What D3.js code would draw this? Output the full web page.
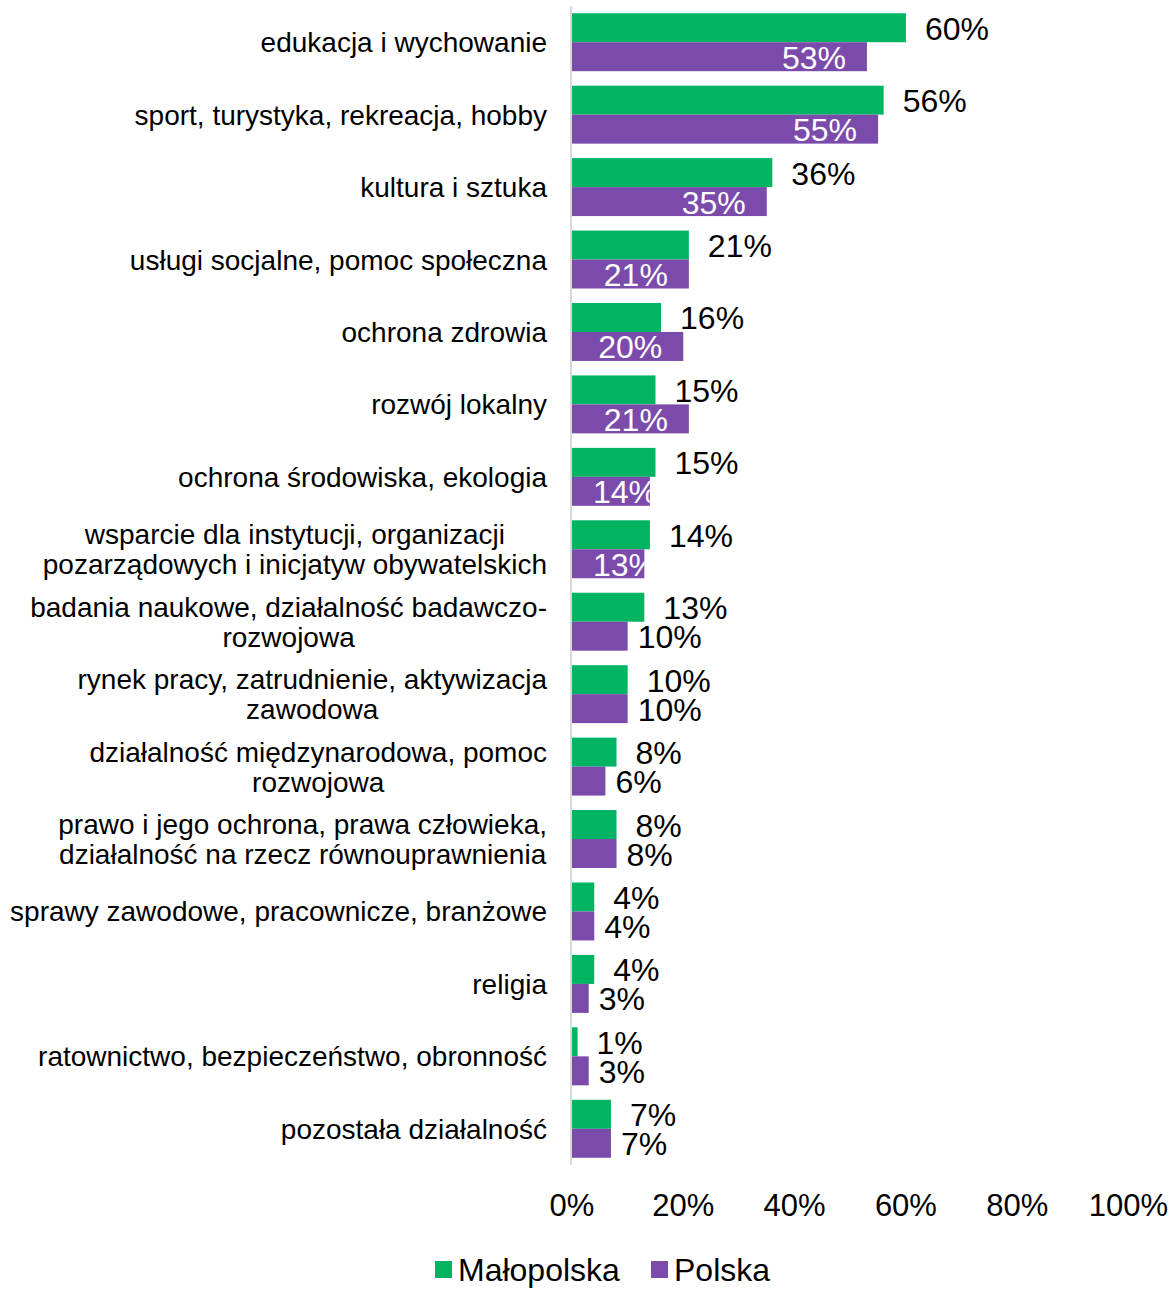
<!DOCTYPE html>
<html>
<head>
<meta charset="utf-8">
<script src="https://cdn.jsdelivr.net/npm/d3@7"></script>
<style>
  html, body { margin: 0; padding: 0; background: #fff; }
  svg { display: block; }
  text { font-family: "Liberation Sans", Arial, sans-serif; }
</style>
</head>
<body>
<svg id="chart" width="1171" height="1289"></svg>
<script>
const categories = [
  "edukacja i wychowanie",
  "sport, turystyka, rekreacja, hobby",
  "kultura i sztuka",
  "usługi socjalne, pomoc społeczna",
  "ochrona zdrowia",
  "rozwój lokalny",
  "ochrona środowiska, ekologia",
  "wsparcie dla instytucji, organizacji\npozarządowych i inicjatyw obywatelskich",
  "badania naukowe, działalność badawczo-\nrozwojowa",
  "rynek pracy, zatrudnienie, aktywizacja\nzawodowa",
  "działalność międzynarodowa, pomoc\nrozwojowa",
  "prawo i jego ochrona, prawa człowieka,\ndziałalność na rzecz równouprawnienia",
  "sprawy zawodowe, pracownicze, branżowe",
  "religia",
  "ratownictwo, bezpieczeństwo, obronność",
  "pozostała działalność"
];
const malopolska = [60, 56, 36, 21, 16, 15, 15, 14, 13, 10, 8, 8, 4, 4, 1, 7];
const polska     = [53, 55, 35, 21, 20, 21, 14, 13, 10, 10, 6, 8, 4, 3, 3, 7];
const seriesNames = ["Małopolska", "Polska"];
const xTicks = [0, 20, 40, 60, 80, 100];

const colors = { "Małopolska": "#00B462", "Polska": "#7B4BAB" };

const svg = d3.select("#chart");
const x = d3.scaleLinear().domain([0, 100]).range([572, 1128.5]);
const y = d3.scaleBand().domain(d3.range(categories.length))
  .range([6, 1165]).paddingInner(0.2).paddingOuter(0.1);
const sub = d3.scaleBand().domain(seriesNames).range([0, y.bandwidth()]);

const data = categories.map((c, i) => ({ i, c, vals: [
  { s: "Małopolska", v: malopolska[i] },
  { s: "Polska", v: polska[i] }
]}));

const defs = svg.append("defs");
const valFont = 32;

const groups = svg.append("g").selectAll("g").data(data).join("g")
  .attr("transform", d => `translate(0,${y(d.i)})`);

groups.each(function(d) {
  const g = d3.select(this);
  d.vals.forEach(o => {
    const y0 = sub(o.s), h = sub.bandwidth();
    g.append("rect")
      .attr("x", x(0)).attr("y", y0)
      .attr("width", x(o.v) - x(0)).attr("height", h)
      .attr("fill", colors[o.s]);
    const cy = y0 + h / 2 + 12;
    if (o.s === "Polska" && o.v >= 13) {
      const id = `clip-${d.i}`;
      defs.append("clipPath").attr("id", id).append("rect")
        .attr("x", x(0)).attr("y", y(d.i) + y0)
        .attr("width", x(o.v) - x(0)).attr("height", h);
      const t = g.append("g").attr("clip-path", `url(#${id})`)
        .attr("transform", `translate(0,${-y(d.i)})`)
        .append("text")
        .attr("y", y(d.i) + cy)
        .attr("font-size", valFont).attr("fill", "#fff")
        .text(o.v + "%");
      const w = t.node().getComputedTextLength();
      const endX = x(o.v) - 21;
      if (endX - w < x(0) + 21) {
        t.attr("x", x(0) + 21).attr("text-anchor", "start");
      } else {
        t.attr("x", endX).attr("text-anchor", "end");
      }
    } else {
      const off = o.s === "Polska" ? 10 : 19;
      g.append("text")
        .attr("x", x(o.v) + off).attr("y", cy)
        .attr("font-size", valFont).attr("fill", "#000")
        .text(o.v + "%");
    }
  });
  // category label
  const lines = d.c.split("\n");
  const cx = 547;
  const bc = y.bandwidth() / 2;
  const lineH = 30;
  if (lines.length === 1) {
    g.append("text").attr("x", cx).attr("y", bc + 10)
      .attr("text-anchor", "end").attr("font-size", 28).attr("fill", "#000")
      .text(lines[0]);
  } else {
    const t = g.append("text").attr("font-size", 28).attr("fill", "#000");
    const spans = lines.map((l, k) => t.append("tspan")
      .attr("y", bc + 10 + (k - (lines.length - 1) / 2) * lineH).text(l));
    const widths = spans.map(s => s.node().getComputedTextLength());
    const maxW = d3.max(widths);
    spans.forEach(s => s.attr("x", cx - maxW / 2).attr("text-anchor", "middle"));
  }
});

// axis line
svg.append("line")
  .attr("x1", x(0) - 1).attr("x2", x(0) - 1)
  .attr("y1", y.range()[0]).attr("y2", y.range()[1])
  .attr("stroke", "#d9d9d9").attr("stroke-width", 2);

// x tick labels
svg.append("g").selectAll("text").data(xTicks).join("text")
  .attr("x", d => x(d)).attr("y", 1216)
  .attr("text-anchor", "middle").attr("font-size", 31).attr("fill", "#000")
  .text(d => d + "%");

// legend
const legendItems = [
  { s: "Małopolska", x: 435 },
  { s: "Polska", x: 651 }
];
const lg = svg.append("g").selectAll("g").data(legendItems).join("g");
lg.append("rect").attr("x", d => d.x).attr("y", 1261)
  .attr("width", 17).attr("height", 17).attr("fill", d => colors[d.s]);
lg.append("text").attr("x", d => d.x + 23).attr("y", 1281)
  .attr("font-size", 32).attr("fill", "#000").text(d => d.s);
</script>
</body>
</html>
